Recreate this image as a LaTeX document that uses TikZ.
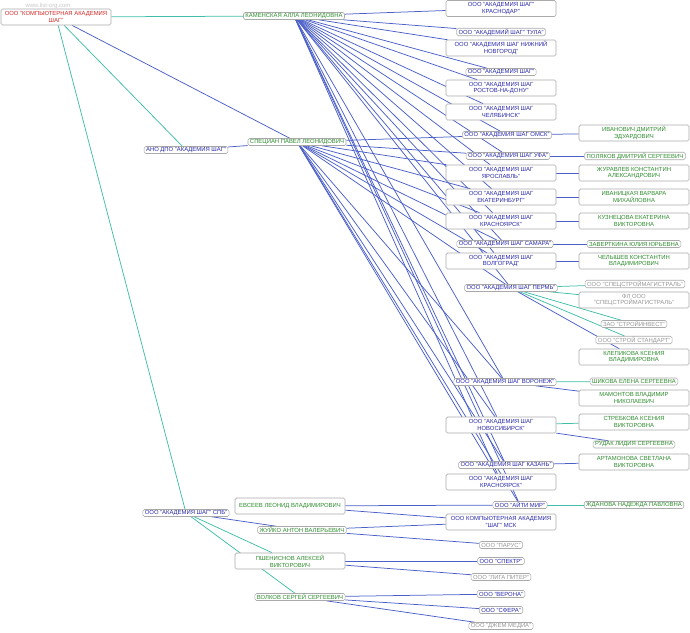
\documentclass[tikz,border=0pt]{standalone}
\usepackage{fontspec}
\setmainfont{Liberation Sans}
\usetikzlibrary{backgrounds}
\definecolor{orgblue}{RGB}{40,40,170}
\definecolor{pgreen}{RGB}{45,140,45}
\definecolor{ogray}{RGB}{150,150,150}
\definecolor{rootred}{RGB}{210,40,40}
\definecolor{eblue}{RGB}{75,95,200}
\definecolor{eteal}{RGB}{65,190,170}
\definecolor{boxgray}{RGB}{170,170,170}
\newcommand{\fsz}{\fontsize{5.9}{6.8}\selectfont}
\tikzset{
 nd/.style={draw=boxgray, fill=white, rounded corners=1.6pt, inner xsep=2pt, inner ysep=0.5pt, font=\fsz, align=center, line width=0.55pt},
 two/.style={nd, minimum width=110pt, minimum height=16pt},
 one/.style={nd, minimum height=7pt},
 org/.style={text=orgblue},
 per/.style={text=pgreen},
 oth/.style={text=ogray},
 eb/.style={draw=eblue, line width=0.75pt},
 et/.style={draw=eteal, line width=0.75pt}
}
\begin{document}
\begin{tikzpicture}[x=1pt,y=-1pt]
\useasboundingbox (0,0) rectangle (690,632);
% root and left
\node[two,text=rootred] (root) at (56,17) {ООО "КОМПЬЮТЕРНАЯ АКАДЕМИЯ\\ШАГ"};
\node[one,per] (kam) at (294,16) {КАМЕНСКАЯ АЛЛА ЛЕОНИДОВНА};
\node[one,org] (ano) at (186,150) {АНО ДПО "АКАДЕМИЯ ШАГ"};
\node[one,per] (spe) at (297,142) {СПЕЦИАН ПАВЕЛ ЛЕОНИДОВИЧ};
\node[one,org] (spb) at (186,513) {ООО "АКАДЕМИЯ ШАГ" СПБ"};
\node[two,per] (evs) at (290,506) {ЕВСЕЕВ ЛЕОНИД ВЛАДИМИРОВИЧ};
\node[one,per] (zhu) at (302,530) {ЖУЙКО АНТОН ВАЛЕРЬЕВИЧ};
\node[two,per] (psh) at (290,561) {ПШЕНИСНОВ АЛЕКСЕЙ\\ВИКТОРОВИЧ};
\node[one,per] (vol) at (300,597) {ВОЛКОВ СЕРГЕЙ СЕРГЕЕВИЧ};
% regional column
\node[two,org] (krd) at (501,8.5) {ООО "АКАДЕМИЯ ШАГ"\\КРАСНОДАР"};
\node[one,org] (tul) at (501,32) {ООО "АКАДЕМИЙ ШАГ" ТУЛА"};
\node[two,org] (nno) at (501,48) {ООО "АКАДЕМИЯ ШАГ НИЖНИЙ\\НОВГОРОД"};
\node[one,org] (aka) at (501,72) {ООО "АКАДЕМИЯ ШАГ"};
\node[two,org] (ros) at (501,88) {ООО "АКАДЕМИЯ ШАГ\\РОСТОВ-НА-ДОНУ"};
\node[two,org] (che) at (501,112) {ООО "АКАДЕМИЯ ШАГ\\ЧЕЛЯБИНСК"};
\node[one,org] (oms) at (507,135) {ООО "АКАДЕМИЯ ШАГ ОМСК"};
\node[one,org] (ufa) at (508,156) {ООО "АКАДЕМИЯ ШАГ УФА"};
\node[two,org] (yar) at (501,173) {ООО "АКАДЕМИЯ ШАГ\\ЯРОСЛАВЛЬ"};
\node[two,org] (ekb) at (501,197) {ООО "АКАДЕМИЯ ШАГ\\ЕКАТЕРИНБУРГ"};
\node[two,org] (kr1) at (501,221) {ООО "АКАДЕМИЯ ШАГ\\КРАСНОЯРСК"};
\node[one,org] (sam) at (505,244) {ООО "АКАДЕМИЯ ШАГ САМАРА"};
\node[two,org] (vlg) at (501,261) {ООО "АКАДЕМИЯ ШАГ\\ВОЛГОГРАД"};
\node[one,org] (per) at (511,288) {ООО "АКАДЕМИЯ ШАГ ПЕРМЬ"};
\node[one,org] (vor) at (505,382) {ООО "АКАДЕМИЯ ШАГ ВОРОНЕЖ"};
\node[two,org] (nsk) at (501,425) {ООО "АКАДЕМИЯ ШАГ\\НОВОСИБИРСК"};
\node[one,org] (kaz) at (506,465) {ООО "АКАДЕМИЯ ШАГ КАЗАНЬ"};
\node[two,org] (kr2) at (501,482) {ООО "АКАДЕМИЯ ШАГ\\КРАСНОЯРСК"};
\node[one,org] (ait) at (520,505) {ООО "АЙТИ МИР"};
\node[two,org] (msk) at (501,522) {ООО КОМПЬЮТЕРНАЯ АКАДЕМИЯ\\"ШАГ" МСК};
\node[one,oth] (par) at (501,545) {ООО "ПАРУС"};
\node[one,org] (spk) at (501,561) {ООО "СПЕКТР"};
\node[one,oth] (lig) at (501,577) {ООО "ЛИГА ПИТЕР"};
\node[one,org] (ver) at (501,594) {ООО "ВЕРОНА"};
\node[one,org] (sfe) at (501,610) {ООО "СФЕРА"};
\node[one,oth] (dzh) at (501,626) {ООО "ДЖЕМ МЕДИА"};
% right column
\node[two,per] (iva) at (634,133) {ИВАНОВИЧ ДМИТРИЙ\\ЭДУАРДОВИЧ};
\node[one,per] (pol) at (635,156) {ПОЛЯКОВ ДМИТРИЙ СЕРГЕЕВИЧ};
\node[two,per] (zhr) at (634,173) {ЖУРАВЛЕВ КОНСТАНТИН\\АЛЕКСАНДРОВИЧ};
\node[two,per] (ivn) at (634,197) {ИВАНИЦКАЯ ВАРВАРА\\МИХАЙЛОВНА};
\node[two,per] (kuz) at (634,221) {КУЗНЕЦОВА ЕКАТЕРИНА\\ВИКТОРОВНА};
\node[one,per] (zav) at (634,244) {ЗАВЕРТКИНА ЮЛИЯ ЮРЬЕВНА};
\node[two,per] (chl) at (634,261) {ЧЕЛЫШЕВ КОНСТАНТИН\\ВЛАДИМИРОВИЧ};
\node[one,oth] (ssm) at (635,284) {ООО "СПЕЦСТРОЙМАГИСТРАЛЬ"};
\node[two,oth] (fl) at (634,300) {ФЛ ООО\\"СПЕЦСТРОЙМАГИСТРАЛЬ"};
\node[one,oth] (sin) at (634,324) {ЗАО "СТРОЙИНВЕСТ"};
\node[one,oth] (sst) at (634,340) {ООО "СТРОЙ СТАНДАРТ"};
\node[two,per] (kle) at (634,357) {КЛЕПИКОВА КСЕНИЯ\\ВЛАДИМИРОВНА};
\node[one,per] (shi) at (634,381.5) {ШИКОВА ЕЛЕНА СЕРГЕЕВНА};
\node[two,per] (mam) at (634,398) {МАМОНТОВ ВЛАДИМИР\\НИКОЛАЕВИЧ};
\node[two,per] (str) at (634,422) {СТРЕБКОВА КСЕНИЯ\\ВИКТОРОВНА};
\node[one,per] (rud) at (634,444.5) {РУДАК ЛИДИЯ СЕРГЕЕВНА};
\node[two,per] (art) at (634,462) {АРТАМОНОВА СВЕТЛАНА\\ВИКТОРОВНА};
\node[one,per] (zhd) at (634,505) {ЖДАНОВА НАДЕЖДА ПАВЛОВНА};
% watermark
\node[font=\fsz, text=gray!45, inner sep=0pt] (wm) at (48,5.5) {www.list-org.com};
\begin{scope}[on background layer]
\draw[et] (root) -- (kam);
\draw[et] (root) -- (ano);
\draw[et] (root) -- (spb);
\draw[eb] (root) -- (spe);
\draw[eb] (ano) -- (spe);
\foreach \t in {krd,tul,nno,aka,ros,che,oms,ufa,yar,ekb,kr1,sam,vlg,per,vor,nsk,kaz,kr2,ait}
  \draw[eb] (kam) -- (\t);
\foreach \t in {oms,ufa,yar,ekb,kr1,sam,vlg,per,vor,nsk,kaz,kr2,ait}
  \draw[eb] (spe) -- (\t);
\draw[eb] (oms) -- (iva);
\draw[eb] (ufa) -- (pol);
\draw[eb] (yar) -- (zhr);
\draw[eb] (ekb) -- (ivn);
\draw[eb] (kr1) -- (kuz);
\draw[eb] (sam) -- (zav);
\draw[eb] (vlg) -- (chl);
\draw[et] (per) -- (ssm);
\draw[et] (per) -- (fl);
\draw[et] (per) -- (sin);
\draw[et] (per) -- (sst);
\draw[eb] (per) -- (kle);
\draw[et] (vor) -- (shi);
\draw[eb] (vor) -- (mam);
\draw[et] (nsk) -- (str);
\draw[eb] (nsk) -- (rud);
\draw[eb] (kaz) -- (art);
\draw[et] (ait) -- (zhd);
\draw[eb] (evs) -- (ait);
\draw[eb] (evs) -- (msk);
\draw[eb] (zhu) -- (msk);
\draw[eb] (zhu) -- (par);
\draw[eb] (psh) -- (spk);
\draw[eb] (psh) -- (lig);
\draw[eb] (vol) -- (ver);
\draw[eb] (vol) -- (sfe);
\draw[eb] (vol) -- (dzh);
\draw[eb] (spb) -- (zhu);
\draw[et] (spb) -- (psh);
\draw[et] (spb) -- (vol);
\end{scope}
\end{tikzpicture}
\end{document}
